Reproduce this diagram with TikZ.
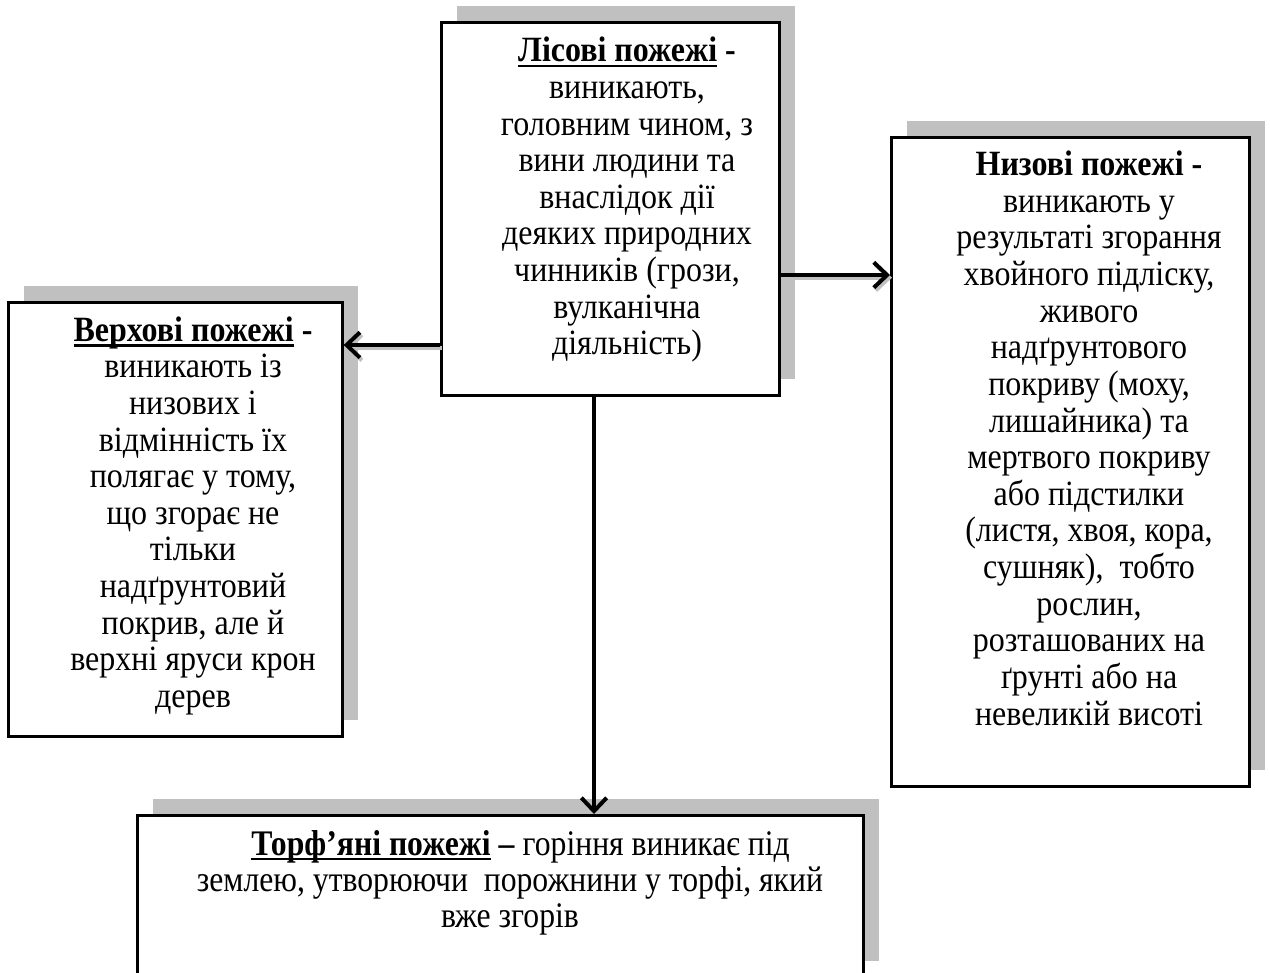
\documentclass[tikz,border=0pt]{standalone}
\usepackage{fontspec}
\setmainfont{Liberation Serif}
\usetikzlibrary{arrows.meta,shadows,calc}
\definecolor{shgray}{RGB}{192,192,192}
\newcommand\myul[1]{\setbox0\hbox{#1}\rlap{\rule[-3.6pt]{\wd0}{1.7pt}}\box0\relax}
\newcommand\stxt[1]{\scalebox{1}[1.11]{\fontsize{24}{24.75}\selectfont\begin{tabular}{@{}c@{}}#1\end{tabular}}}
\begin{document}
\begin{tikzpicture}[x=0.75pt,y=-0.75pt,
  box/.style={draw=black, line width=2pt, fill=white, rectangle, inner sep=0pt, anchor=north west,
     general shadow={fill=shgray, shadow xshift=12pt, shadow yshift=12pt}},
  txt/.style={inner sep=0pt},
  tip/.style={-{Straight Barb[length=10pt,width=19pt]}},
  arr/.style={line width=3pt, tip},
  arrsh/.style={line width=3pt, draw=shgray, tip}
]
\useasboundingbox[fill=white] (0,0) rectangle (1270,972);

\node[box, minimum width=253.5pt, minimum height=279.75pt] (C) at (440,21) {};
\node[box, minimum width=250.5pt, minimum height=325.5pt] (L) at (7,301) {};
\node[box, minimum width=268.5pt, minimum height=486.75pt] (R) at (890,136) {};
\node[box, minimum width=544.5pt, minimum height=121.5pt] (B) at (136,814) {};

\node[txt] (Ct) at (627,201) {\stxt{\textbf{\myul{Лісові пожежі}\ -}\\виникають,\\головним чином, з\\вини людини та\\внаслідок дії\\деяких природних\\чинників (грози,\\вулканічна\\діяльність)}};

\node[txt] (Lt) at (193,517) {\stxt{\textbf{\myul{Верхові пожежі}\ -}\\виникають із\\низових і\\відмінність їх\\полягає у тому,\\що згорає не\\тільки\\надґрунтовий\\покрив, але й\\верхні яруси крон\\дерев}};

\node[txt] (Rt) at (1089,443) {\stxt{\textbf{Низові пожежі -}\\виникають у\\результаті згорання\\хвойного підліску,\\живого\\надґрунтового\\покриву (моху,\\лишайника) та\\мертвого покриву\\або підстилки\\(листя, хвоя, кора,\\сушняк),\ \ тобто\\рослин,\\розташованих на\\ґрунті або на\\невеликій висоті}};

\node[txt] (Bt) at (510,884) {\scalebox{0.88}[1]{\fontsize{27}{27.5}\selectfont\begin{tabular}{@{}c@{}}\hspace*{18pt}\textbf{\myul{Торф’яні пожежі}\ –} горіння виникає під\\[-0.5pt]землею, утворюючи\ \ порожнини у торфі, який\\[-0.5pt]вже згорів\end{tabular}}};

\draw[arrsh, transform canvas={xshift=1.5pt,yshift=-2pt}] (C.west |- 0,345) -- (L.east |- 0,345);
\draw[arrsh, transform canvas={xshift=1.5pt,yshift=-2pt}] (C.east |- 0,275) -- (R.west |- 0,275);
\draw[arr] (C.west |- 0,345) -- (L.east |- 0,345);
\draw[arr] (C.east |- 0,275) -- (R.west |- 0,275);
\draw[arr] (C.south -| 594,0) -- (B.north -| 594,0);
\end{tikzpicture}
\end{document}
